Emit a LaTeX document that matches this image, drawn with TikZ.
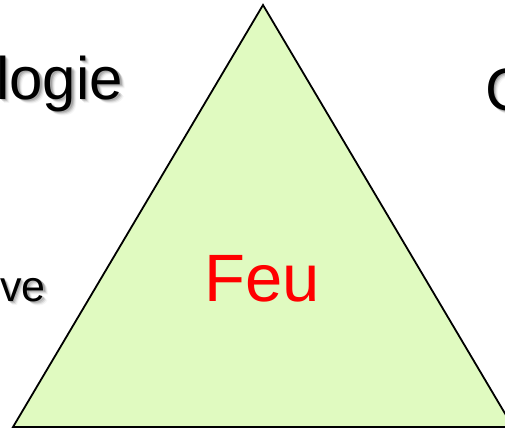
\documentclass[tikz,border=0pt]{standalone}
\usepackage{fontspec}
\setmainfont{Liberation Sans}
\definecolor{trifill}{RGB}{224,250,192}
\begin{document}
\begin{tikzpicture}[x=1pt,y=-1pt,
  big/.style={anchor=base west,inner sep=0,font=\fontsize{60}{60}\selectfont},
  small/.style={anchor=base east,inner sep=0,font=\fontsize{43}{43}\selectfont}]
\useasboundingbox (0,0) rectangle (505,429);
\fill[white] (0,0) rectangle (505,429);
\coordinate (apex) at (263,5);
\coordinate (bl) at (13,427);
\coordinate (br) at (513,427);
\filldraw[fill=trifill,draw=black,line width=1.8pt,line join=miter] (apex) -- (br) -- (bl) -- cycle;
% soft drop shadows of the black texts
\foreach \dx/\dy/\op in {1.5/1.5/0.16,2.5/2.5/0.13,3.5/3.5/0.08,4.5/4.5/0.04}{
  \node[big,opacity=\op] at (-4+\dx,99+\dy) {logie};
  \node[big,opacity=\op] at (485+\dx,110+\dy) {C};
  \node[small,opacity=\op] at (46+\dx,301+\dy) {ve};
}
\node[big] (t1) at (-4,99) {logie};
\node[big] (t2) at (485,110) {C};
\node[small] (t3) at (46,301) {ve};
\node[anchor=base,inner sep=0,text=red,font=\fontsize{67}{67}\selectfont] (feu) at (262,301) {Feu};
\end{tikzpicture}
\end{document}
